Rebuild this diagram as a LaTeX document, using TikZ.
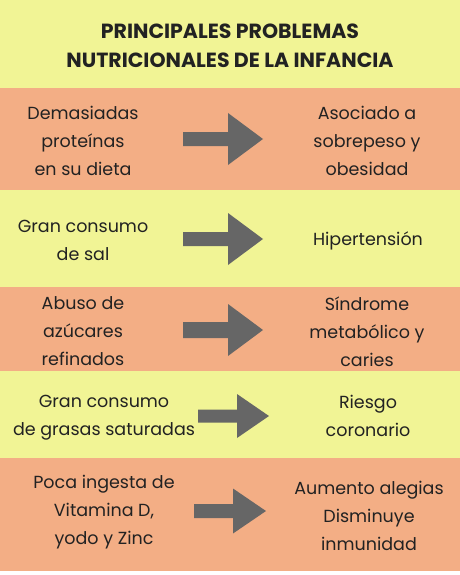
\documentclass[tikz,border=0pt]{standalone}
\usepackage{fontspec}
\setmainfont{Poppins}
\usetikzlibrary{positioning}
\definecolor{bandyellow}{HTML}{F1F495}
\definecolor{bandorange}{HTML}{F3AE85}
\definecolor{arrowgray}{HTML}{666666}
\definecolor{inkdark}{HTML}{222222}

\begin{document}
\begin{tikzpicture}[x=1pt,y=-1pt,
  titletext/.style={align=center,text=inkdark,font=\bfseries\fontsize{20.5}{29}\selectfont,inner sep=0pt},
  celltext/.style={align=center,text=inkdark,font=\fontsize{17.5}{28}\selectfont,inner sep=0pt}]
\useasboundingbox (0,0) rectangle (460,575);
\fill[white] (0,0) rectangle (460,575);
% bands
\fill[bandyellow] (0,0) rectangle (460,88);
\fill[bandorange] (0,88) rectangle (460,190);
\fill[bandyellow] (0,190) rectangle (460,287);
\fill[bandorange] (0,287) rectangle (460,371);
\fill[bandyellow] (0,371) rectangle (460,458);
\fill[bandorange] (0,458) rectangle (460,571);
% title
\node[titletext] (title) at (230,46) {PRINCIPALES PROBLEMAS\\NUTRICIONALES DE LA INFANCIA};
% causes and effects
\node[celltext] (cause1) at (83,141) {Demasiadas\\proteínas\\en su dieta};
\node[celltext] (effect1) at (367,141) {Asociado a\\sobrepeso y\\obesidad};
\node[celltext] (cause2) at (83,240) {Gran consumo\\de sal};
\node[celltext] (effect2) at (368,241) {Hipertensión};
\node[celltext] (cause3) at (83,331) {Abuso de\\azúcares\\refinados};
\node[celltext] (effect3) at (367,332) {Síndrome\\metabólico y\\caries};
\node[celltext] (cause4) at (104,418) {Gran consumo\\de grasas saturadas};
\node[celltext] (effect4) at (368,416) {Riesgo\\coronario};
\node[celltext] (cause5) at (104,512) {Poca ingesta de\\Vitamina D,\\yodo y Zinc};
\node[celltext] (effect5) at (369,516) {Aumento alegias\\Disminuye\\inmunidad};
% block arrows: shaft start, head base, tip, centre, half shaft, half head
\foreach \xa/\xb/\xc/\yc/\sh/\hh in {183/228/263/139/7/26, 183/228/263/239/7/26,
    183/228/263/330/8/26, 198/237/269/416/6.5/22, 194/233/266/511/7/22.5}
  \fill[arrowgray] (\xa,{\yc-\sh}) -- (\xb,{\yc-\sh}) -- (\xb,{\yc-\hh}) -- (\xc,\yc)
    -- (\xb,{\yc+\hh}) -- (\xb,{\yc+\sh}) -- (\xa,{\yc+\sh}) -- cycle;
\end{tikzpicture}
\end{document}
